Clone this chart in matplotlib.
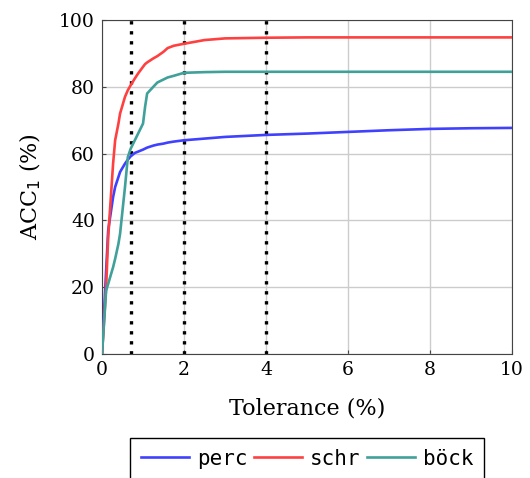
import matplotlib
matplotlib.use('Agg')
import matplotlib.pyplot as plt

# tolerance values (%) and accuracies
tol = [0.0, 0.1, 0.15, 0.27, 0.32, 0.4, 0.44, 0.56, 0.63, 0.7, 0.8, 0.88, 1.0, 1.05, 1.1,
       1.25, 1.35, 1.5, 1.6, 1.75, 2.0, 2.5, 3.0, 4.0, 5.0, 6.0, 7.0, 8.0, 9.0, 10.0]
perc = [0.0, 25.0, 37.0, 47.0, 50.0, 53.0, 54.5, 57.0, 58.2, 59.2, 60.2, 60.6, 61.2, 61.5, 61.8,
        62.4, 62.7, 63.0, 63.3, 63.6, 64.0, 64.5, 65.0, 65.6, 66.0, 66.5, 67.0, 67.4, 67.6, 67.7]
schr = [0.0, 20.0, 35.0, 57.0, 64.0, 69.0, 72.0, 77.0, 79.0, 80.5, 82.5, 84.0, 86.0, 86.8, 87.3,
        88.5, 89.2, 90.5, 91.6, 92.3, 92.9, 94.0, 94.5, 94.7, 94.8, 94.8, 94.8, 94.8, 94.8, 94.8]
bock = [0.0, 19.0, 21.0, 26.0, 28.5, 33.0, 36.0, 50.0, 59.0, 61.5, 64.0, 66.0, 69.0, 74.0, 78.0,
        80.0, 81.3, 82.2, 82.8, 83.3, 84.2, 84.4, 84.5, 84.5, 84.5, 84.5, 84.5, 84.5, 84.5, 84.5]
markers_x = [0.7, 2, 4]

plt.rcParams['font.family'] = ['DejaVu Serif']

fig = plt.figure(figsize=(5.3, 4.78), dpi=100)
ax = fig.add_axes([0.1925, 0.2594, 0.7736, 0.6987])

ax.grid(True, color='#cccccc', linewidth=1.0)
ax.set_axisbelow(True)

for xv in markers_x:
    ax.axvline(xv, color='black', linestyle=(0, (1, 2)), linewidth=2.4, zorder=2)

ax.plot(tol, perc, color='#4040ff', linewidth=1.9, label='perc', zorder=3)
ax.plot(tol, schr, color='#ff4040', linewidth=1.9, label='schr', zorder=3)
ax.plot(tol, bock, color='#40a09a', linewidth=1.9, label='böck', zorder=3)

ax.set_xlim(0, 10)
ax.set_ylim(0, 100)
ax.set_xticks([0, 2, 4, 6, 8, 10])
ax.set_yticks([0, 20, 40, 60, 80, 100])
ax.tick_params(direction='in', length=3, labelsize=13.5, color='#444444', pad=5)
for s in ax.spines.values():
    s.set_color('#444444')

ax.set_xlabel('Tolerance (%)', fontsize=16, labelpad=13)
ax.set_ylabel('ACC$_1$ (%)', fontsize=16, labelpad=12)

leg = ax.legend(loc='upper center', bbox_to_anchor=(0.5, -0.252), ncol=3,
                prop={'family': 'DejaVu Sans Mono', 'size': 15},
                fancybox=False, edgecolor='black', framealpha=1,
                handlelength=2.3, handletextpad=0.4, columnspacing=0.3,
                borderpad=0.5, borderaxespad=0)
leg.get_frame().set_linewidth(1.0)

fig.savefig('out.png', dpi=100)
